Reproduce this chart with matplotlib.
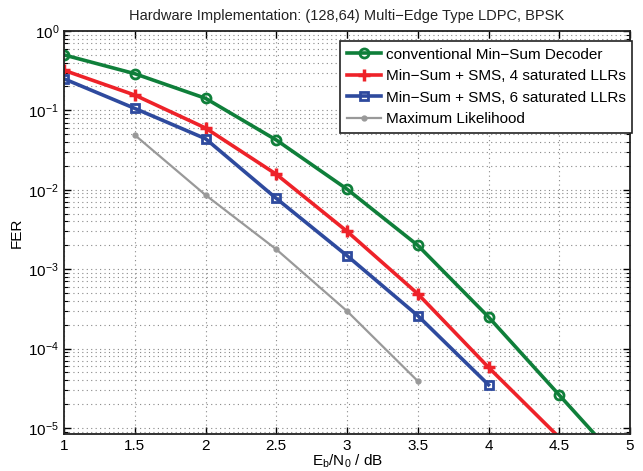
import numpy as np
import matplotlib; matplotlib.use("Agg")
import matplotlib.pyplot as plt

plt.rcParams["font.family"] = ["Liberation Sans", "DejaVu Sans"]
plt.rcParams["mathtext.fontset"] = "custom"
plt.rcParams["mathtext.rm"] = "Liberation Sans"
plt.rcParams["mathtext.it"] = "Liberation Sans"

# Eb/N0 (dB) and FER
ebn0_ms = [1.0, 1.5, 2.0, 2.5, 3.0, 3.5, 4.0, 4.5, 5.0]
fer_ms = [0.50, 0.29, 0.142, 0.0424, 0.0102, 0.0020, 2.5e-4, 2.6e-5, 2.7e-6]
ebn0_sms4 = [1.0, 1.5, 2.0, 2.5, 3.0, 3.5, 4.0, 4.5]
fer_sms4 = [0.32, 0.156, 0.060, 0.0157, 0.0030, 4.9e-4, 5.8e-5, 7.6e-6]
ebn0_sms6 = [1.0, 1.5, 2.0, 2.5, 3.0, 3.5, 4.0]
fer_sms6 = [0.25, 0.106, 0.044, 0.0078, 0.00148, 2.6e-4, 3.5e-5]
ebn0_ml = [1.5, 2.0, 2.5, 3.0, 3.5]
fer_ml = [0.049, 0.0086, 0.00178, 2.97e-4, 3.9e-5]

YMIN, YMAX = 8.4e-6, 1.0

series = [
    (ebn0_ms, fer_ms, "conventional Min\u2212Sum Decoder", "#0f7f3a", 2.6,
     dict(marker="o", ms=6.5, mfc="none", mew=2)),
    (ebn0_sms4, fer_sms4, "Min\u2212Sum + SMS, 4 saturated LLRs", "#ee2229", 2.6,
     dict(marker="+", ms=9, mew=2.5)),
    (ebn0_sms6, fer_sms6, "Min\u2212Sum + SMS, 6 saturated LLRs", "#2e4a9e", 2.6,
     dict(marker="s", ms=5.5, mfc="none", mew=2)),
    (ebn0_ml, fer_ml, "Maximum Likelihood", "#999999", 1.6,
     dict(marker="o", ms=3.5, mew=1)),
]

fig = plt.figure(figsize=(6.43, 4.71), dpi=100)
ax = fig.add_axes([64/643, 1-434/471, (630-64)/643, (434-31)/471])

for x, y, label, c, lw, mk in series:
    x = np.array(x); y = np.array(y)
    ax.plot(x, y, "-", color=c, lw=lw)
    vis = y >= YMIN
    ax.plot(x[vis], y[vis], ls="none", color=c, **mk)
    ax.plot([], [], "-", color=c, lw=lw, label=label, **mk)

ax.set_yscale("log")
ax.set_xlim(1, 5)
ax.set_ylim(YMIN, YMAX)
ax.set_xticks(np.arange(1, 5.01, 0.5))
ax.set_xticklabels(["1", "1.5", "2", "2.5", "3", "3.5", "4", "4.5", "5"])
ax.set_yticks([1e-5, 1e-4, 1e-3, 1e-2, 1e-1, 1e0])
ax.grid(True, which="major", ls=(0, (1, 3)), color="#888888", lw=0.8)
ax.grid(True, which="minor", axis="y", ls=(0, (1, 3)), color="#888888", lw=0.8)
ax.tick_params(which="both", direction="in", top=True, right=True, labelsize=11)
ax.tick_params(which="major", length=5, width=1)
ax.tick_params(which="minor", length=3, width=0.8)
for s in ax.spines.values():
    s.set_linewidth(1.3)
    s.set_color("#222222")

ax.set_title("Hardware Implementation: (128,64) Multi\u2212Edge Type LDPC, BPSK",
             fontsize=10.5, color="#222222", pad=8)
ax.set_xlabel(r"$\mathregular{E_b/N_0}$ / dB", fontsize=11, labelpad=0)
ax.set_ylabel("FER", fontsize=11, labelpad=3)

leg = ax.legend(loc="upper right", bbox_to_anchor=(1.004, 0.976), borderaxespad=0,
                fontsize=11, frameon=True, fancybox=False,
                edgecolor="#222222", framealpha=1,
                handlelength=2.2, handletextpad=0.3, labelspacing=0.5,
                borderpad=0.45)
leg.get_frame().set_linewidth(1.2)

fig.savefig("out.png", dpi=100)
